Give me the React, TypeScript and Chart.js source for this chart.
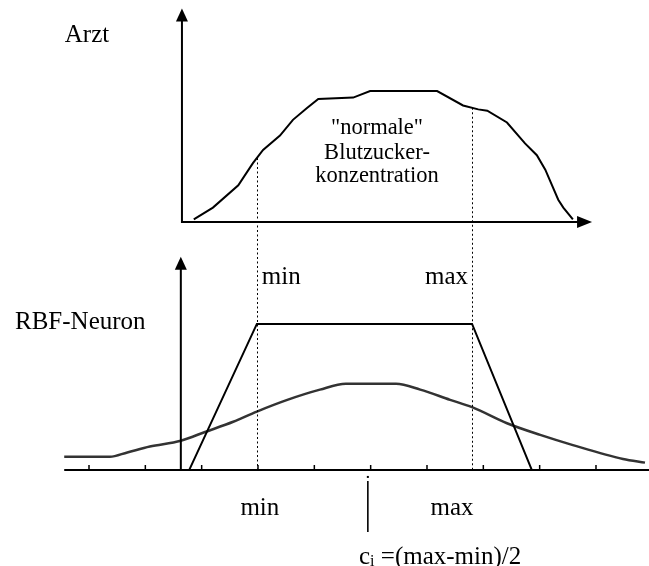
import React, { useEffect, useRef } from "react";
import { Chart, registerables } from "chart.js";

Chart.register(...registerables);

// ---- data (x in tick units of the concentration axis, y relative heights) ----
const arztX = [2.86, 3.2, 3.65, 3.91, 4.09, 4.39, 4.62, 4.87, 5.07, 5.69, 5.99, 7.18, 7.64, 7.91, 8.07, 8.42, 8.74, 8.95, 9.1, 9.18, 9.33, 9.42, 9.59];
const arztY = [0.02, 0.11, 0.28, 0.45, 0.55, 0.66, 0.78, 0.87, 0.94, 0.95, 1.0, 1.0, 0.89, 0.86, 0.85, 0.76, 0.6, 0.51, 0.4, 0.32, 0.17, 0.11, 0.02];

const trapezX = [2.78, 3.98, 7.8, 8.86];
const trapezY = [0, 1, 1, 0];

const gaussX = [0.56, 1.37, 1.68, 2.08, 2.63, 3.06, 3.56, 3.98, 4.52, 5.1, 5.56, 6.45, 6.88, 7.41, 7.8, 8.42, 9.01, 9.59, 10.48, 10.87];
const gaussY = [0.09, 0.09, 0.12, 0.16, 0.2, 0.26, 0.33, 0.4, 0.48, 0.55, 0.59, 0.59, 0.55, 0.48, 0.43, 0.32, 0.24, 0.17, 0.075, 0.05];

const tickValues = [1, 2, 3, 4, 5, 6, 7, 8, 9, 10];
const minValue = 3.98;
const maxValue = 7.8;
const centerValue = 5.95;

const labelArzt = "Arzt";
const labelRbf = "RBF-Neuron";
const labelMin = "min";
const labelMax = "max";
const centerText = ["\"normale\"", "Blutzucker-", "konzentration"];
const ciMain = "c";
const ciSub = "i";
const ciRest = " =(max-min)/2";

const SERIF = "'Liberation Serif', 'Times New Roman', serif";

function interp(xs: number[], ys: number[], v: number) {
  for (let i = 0; i < xs.length - 1; i++) {
    if (v >= xs[i] && v <= xs[i + 1]) {
      const t = (v - xs[i]) / (xs[i + 1] - xs[i]);
      return ys[i] + t * (ys[i + 1] - ys[i]);
    }
  }
  return 0;
}

const diagramPlugin = {
  id: "diagram",
  afterDatasetsDraw(chart: any) {
    const ctx: CanvasRenderingContext2D = chart.ctx;
    const xs = chart.scales.x;
    const yt = chart.scales.yTop;
    const yb = chart.scales.yBot;
    const X = (v: number) => xs.getPixelForValue(v);
    const YT = (v: number) => yt.getPixelForValue(v);
    const YB = (v: number) => yb.getPixelForValue(v);

    ctx.save();
    ctx.strokeStyle = "#000";
    ctx.fillStyle = "#000";
    ctx.lineCap = "butt";

    const arrowUp = (x: number, yTip: number) => {
      ctx.beginPath();
      ctx.moveTo(x, yTip);
      ctx.lineTo(x - 6, yTip + 13);
      ctx.lineTo(x + 6, yTip + 13);
      ctx.closePath();
      ctx.fill();
    };
    const arrowRight = (xTip: number, y: number) => {
      ctx.beginPath();
      ctx.moveTo(xTip, y);
      ctx.lineTo(xTip - 15, y - 6);
      ctx.lineTo(xTip - 15, y + 6);
      ctx.closePath();
      ctx.fill();
    };

    // ---- top panel axes ----
    const tAxisX = X(2.65);
    const tAxisY = YT(0);
    ctx.lineWidth = 2;
    ctx.beginPath();
    ctx.moveTo(tAxisX, tAxisY + 1);
    ctx.lineTo(tAxisX, YT(1.63) + 10);
    ctx.moveTo(tAxisX - 1, tAxisY);
    ctx.lineTo(X(9.93) - 10, tAxisY);
    ctx.stroke();
    arrowUp(tAxisX, YT(1.63));
    arrowRight(X(9.93), tAxisY);

    // ---- bottom panel axes ----
    const bAxisX = X(2.63);
    const bAxisY = YB(0);
    ctx.beginPath();
    ctx.moveTo(bAxisX, bAxisY);
    ctx.lineTo(bAxisX, YB(1.46) + 10);
    ctx.moveTo(X(0.56), bAxisY);
    ctx.lineTo(chart.chartArea.right, bAxisY);
    ctx.stroke();
    arrowUp(bAxisX, YB(1.46));

    // ticks
    ctx.lineWidth = 1.5;
    ctx.beginPath();
    tickValues.forEach((t) => {
      const x = X(t);
      ctx.moveTo(x, bAxisY - 5);
      ctx.lineTo(x, bAxisY + 1);
    });
    ctx.stroke();

    // centre marker
    const cx = X(centerValue);
    ctx.fillRect(cx - 1, bAxisY + 6, 2, 2);
    ctx.lineWidth = 1.6;
    ctx.beginPath();
    ctx.moveTo(cx, bAxisY + 11);
    ctx.lineTo(cx, bAxisY + 62);
    ctx.stroke();

    // dotted guide lines
    ctx.lineWidth = 1;
    ctx.setLineDash([2, 2.5]);
    [minValue, maxValue].forEach((v) => {
      const x = Math.round(X(v)) + 0.5;
      ctx.beginPath();
      ctx.moveTo(x, YT(interp(arztX, arztY, v)));
      ctx.lineTo(x, bAxisY);
      ctx.stroke();
    });
    ctx.setLineDash([]);

    // ---- texts ----
    ctx.textBaseline = "middle";
    ctx.font = `25px ${SERIF}`;
    ctx.textAlign = "center";
    ctx.fillText(labelArzt, 87, 35);
    ctx.textAlign = "left";
    ctx.fillText(labelRbf, 15, 322);

    ctx.textAlign = "left";
    ctx.fillText(labelMin, X(minValue) + 5, 277);
    ctx.textAlign = "right";
    ctx.fillText(labelMax, X(maxValue) - 4, 277);

    ctx.textAlign = "center";
    ctx.fillText(labelMin, X(minValue) + 3, 508);
    ctx.fillText(labelMax, X(maxValue) - 20, 508);

    // c_i formula
    ctx.textAlign = "left";
    let tx = 359;
    ctx.fillText(ciMain, tx, 557);
    tx += ctx.measureText(ciMain).width;
    ctx.font = `16px ${SERIF}`;
    ctx.fillText(ciSub, tx, 562);
    tx += ctx.measureText(ciSub).width;
    ctx.font = `25px ${SERIF}`;
    ctx.fillText(ciRest, tx, 557);

    // centre text in top panel
    ctx.font = `22.5px ${SERIF}`;
    ctx.textAlign = "center";
    const lineYs = [128, 153, 176];
    centerText.forEach((s, i) => ctx.fillText(s, 377, lineYs[i]));

    ctx.restore();
  },
};

export default function App() {
  const ref = useRef<HTMLCanvasElement>(null);

  useEffect(() => {
    const canvas = ref.current;
    if (!canvas) return;
    const chart = new Chart(canvas, {
      type: "line",
      data: {
        datasets: [
          {
            label: "Arzt",
            data: arztX.map((x, i) => ({ x, y: arztY[i] })),
            yAxisID: "yTop",
            borderColor: "#000",
            borderWidth: 2,
            pointRadius: 0,
            tension: 0,
            fill: false,
          },
          {
            label: "RBF trapez",
            data: trapezX.map((x, i) => ({ x, y: trapezY[i] })),
            yAxisID: "yBot",
            borderColor: "#000",
            borderWidth: 2,
            pointRadius: 0,
            tension: 0,
            fill: false,
          },
          {
            label: "RBF gauss",
            data: gaussX.map((x, i) => ({ x, y: gaussY[i] })),
            yAxisID: "yBot",
            borderColor: "#333",
            borderWidth: 2.5,
            pointRadius: 0,
            cubicInterpolationMode: "monotone",
            fill: false,
          },
        ],
      },
      options: {
        animation: false,
        responsive: false,
        events: [],
        layout: { padding: 0 },
        plugins: { legend: { display: false }, tooltip: { enabled: false }, title: { display: false } },
        scales: {
          x: { type: "linear", display: false, min: -0.58, max: 10.941 },
          yTop: { type: "linear", display: false, min: -2.626, max: 1.695 },
          yBot: { type: "linear", display: false, min: -0.658, max: 3.219 },
        },
      },
      plugins: [diagramPlugin],
    });
    return () => chart.destroy();
  }, []);

  return (
    <div style={{ position: "fixed", left: 0, top: 0, width: 649, height: 566, background: "#fff" }}>
      <canvas ref={ref} width={649} height={566} style={{ display: "block", width: 649, height: 566 }} />
    </div>
  );
}
